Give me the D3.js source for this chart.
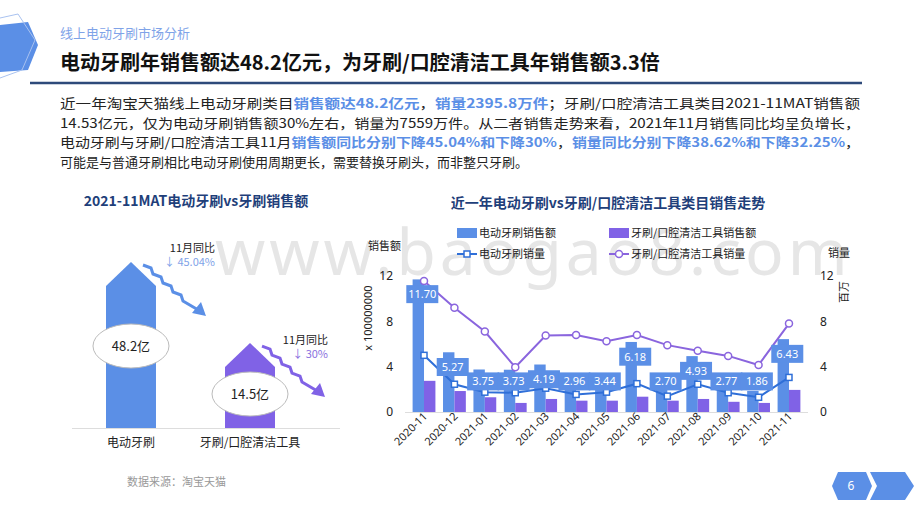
<!DOCTYPE html>
<html><head><meta charset="utf-8">
<script src="https://cdn.jsdelivr.net/npm/d3@7"></script>
<style>body{margin:0;background:#fff;font-family:"Noto Sans CJK SC","Noto Sans",sans-serif}</style>
</head><body><svg id="c" width="920" height="518"></svg>
<script>
const months=["2020-11","2020-12","2021-01","2021-02","2021-03","2021-04","2021-05","2021-06","2021-07","2021-08","2021-09","2021-10","2021-11"];
const eSales=[11.70,5.27,3.75,3.73,4.19,2.96,3.44,6.18,2.70,4.93,2.77,1.86,6.43];
const tSales=[2.75,1.85,1.3,0.8,1.15,1.0,1.0,1.35,1.0,1.15,0.9,0.8,1.95];
const eVol=[5.0,2.45,1.75,1.7,2.1,1.55,1.75,2.5,1.4,2.45,1.7,1.3,3.05];
const tVol=[11.55,9.2,7.1,3.95,6.75,6.8,6.25,6.8,5.9,5.4,4.95,4.15,7.8];
const yTicks=[0,4,8,12];
const leftCats=["电动牙刷","牙刷/口腔清洁工具"];
const leftVals=[48.2,14.5];
const leftYoY=["45.04%","30%"];
const BLUE="#5b8fe6",PURP="#8062e6",LINEB="#2f6fd8",LINEP="#8a65de";
const svg=d3.select("#c");
const F='"Noto Sans CJK SC",sans-serif';
svg.append("text").attr("x",215).attr("y",275).attr("font-size",64).attr("fill","#e6e6e6").attr("font-family","Noto Sans").attr("letter-spacing",4).text("www.baogao8.com");
svg.append("path").attr("d","M0,25 L28,22 L38,45 L28,70 L0,72Z").attr("fill","#5b8fe6");
svg.append("path").attr("d","M0,18 L18,14 L35,40 L22,70 L0,78").attr("fill","none").attr("stroke","#a9c2f0");
svg.append("text").attr("x",60).attr("y",38).attr("font-size",13).attr("fill","#7fa3e8").attr("font-family",F).text("线上电动牙刷市场分析");
svg.append("text").attr("x",60).attr("y",70).attr("font-size",20).attr("font-weight","bold").attr("fill","#111").attr("font-family",F).text("电动牙刷年销售额达48.2亿元，为牙刷/口腔清洁工具年销售额3.3倍");
svg.append("line").attr("x1",30).attr("x2",862).attr("y1",83).attr("y2",83).attr("stroke","#2e4a7a").attr("stroke-width",2.5);
const body=[
 [["近一年淘宝天猫线上电动牙刷类目",0],["销售额达48.2亿元",1],["，",0],["销量2395.8万件",1],["；牙刷/口腔清洁工具类目2021-11MAT销售额",0]],
 [["14.53亿元，仅为电动牙刷销售额30%左右，销量为7559万件。从二者销售走势来看，2021年11月销售同比均呈负增长，",0]],
 [["电动牙刷与牙刷/口腔清洁工具11月",0],["销售额同比分别下降45.04%和下降30%",1],["，",0],["销量同比分别下降38.62%和下降32.25%",1],["，",0]],
 [["可能是与普通牙刷相比电动牙刷使用周期更长，需要替换牙刷头，而非整只牙刷。",0]]];
body.forEach((ln,i)=>{const t=svg.append("text").attr("x",60).attr("y",108+i*19.5).attr("font-size",13).attr("font-family",F);
 if(i<3)t.attr("textLength",800).attr("lengthAdjust","spacingAndGlyphs");
 ln.forEach(s=>t.append("tspan").text(s[0]).attr("fill",s[1]?"#5b8fe6":"#222").attr("font-weight",s[1]?"bold":"normal"));});
// left chart
svg.append("text").attr("x",196).attr("y",206).attr("text-anchor","middle").attr("font-size",14).attr("font-weight","bold").attr("fill","#1f3f7a").attr("font-family",F).text("2021-11MAT电动牙刷vs牙刷销售额");
const lx=d3.scaleBand().domain(leftCats).range([106,275]).paddingInner(0.58).paddingOuter(0);
const ly=d3.scaleLinear().domain([0,48.2]).range([377.9,262]);
leftCats.forEach((c,i)=>{const x0=lx(c),w=lx.bandwidth(),top=ly(leftVals[i]),sh=top+24;
 const col=i?PURP:BLUE;
 svg.append("path").attr("d",`M${x0},428 L${x0},${sh} L${x0+w/2},${top} L${x0+w},${sh} L${x0+w},428Z`).attr("fill",col);
 const cy=i?394:346;
 svg.append("ellipse").attr("cx",x0+w/2).attr("cy",cy).attr("rx",38).attr("ry",22).attr("fill","#fff").attr("stroke","#bbb");
 svg.append("text").attr("x",x0+w/2).attr("y",cy+5).attr("text-anchor","middle").attr("font-size",13).attr("font-family",F).attr("fill","#222").text(leftVals[i]+"亿");
 svg.append("text").attr("x",x0+w/2).attr("y",447).attr("text-anchor","middle").attr("font-size",12).attr("font-family",F).attr("fill","#222").text(c);
 const ax=x0+w/2+12,ay=top+3;
 let pts=[[ax,ay]];for(let k=0;k<4;k++){const p=pts[pts.length-1];pts.push([p[0]+8,p[1]+3],[p[0]+10,p[1]+9]);}
 const last=pts[pts.length-1];pts.push([last[0]+17,last[1]+10]);
 svg.append("path").attr("d",d3.line()(pts)).attr("fill","none").attr("stroke",col).attr("stroke-width",3);
 const e=pts[pts.length-1];
 svg.append("path").attr("d",`M${e[0]+6},${e[1]+5} L${e[0]-8},${e[1]+2} L${e[0]+1},${e[1]-9}Z`).attr("fill",col);
 const tx=i?328:215,ty=i?344:252;
 svg.append("text").attr("x",tx).attr("y",ty).attr("text-anchor","end").attr("font-size",11).attr("font-family",F).attr("fill","#222").text("11月同比");
 svg.append("text").attr("x",tx).attr("y",ty+14).attr("text-anchor","end").attr("font-size",11).attr("font-family",F).attr("fill",i?"#8a70e0":"#7fa3e8").text("↓ "+leftYoY[i]);
});
svg.append("line").attr("x1",72).attr("x2",340).attr("y1",428.5).attr("y2",428.5).attr("stroke","#ddd");
svg.append("text").attr("x",127).attr("y",486).attr("font-size",11).attr("font-family",F).attr("fill","#999").text("数据来源：淘宝天猫");
// right chart
svg.append("text").attr("x",608).attr("y",208).attr("text-anchor","middle").attr("font-size",14).attr("font-weight","bold").attr("fill","#1f3f7a").attr("font-family",F).text("近一年电动牙刷vs牙刷/口腔清洁工具类目销售走势");
const x=d3.scaleBand().domain(months).range([405,808]).padding(0.25);
const y=d3.scaleLinear().domain([0,12]).range([412,276]);
const g=svg.append("g");
g.append("line").attr("x1",405).attr("x2",808).attr("y1",412.5).attr("y2",412.5).attr("stroke","#ddd");
const bw=x.bandwidth()/2;
months.forEach((m,i)=>{
 g.append("rect").attr("x",x(m)).attr("y",y(eSales[i])).attr("width",bw).attr("height",412-y(eSales[i])).attr("fill",BLUE);
 g.append("rect").attr("x",x(m)+bw).attr("y",y(tSales[i])).attr("width",bw).attr("height",412-y(tSales[i])).attr("fill",PURP);
});
const lineGen=d3.line().x((d,i)=>x(months[i])+x.bandwidth()/2).y(d=>y(d));
g.append("path").attr("d",lineGen(tVol)).attr("fill","none").attr("stroke",LINEP).attr("stroke-width",2);
g.append("path").attr("d",lineGen(eVol)).attr("fill","none").attr("stroke",LINEB).attr("stroke-width",2);
tVol.forEach((d,i)=>g.append("circle").attr("cx",x(months[i])+x.bandwidth()/2).attr("cy",y(d)).attr("r",3.5).attr("fill","#fff").attr("stroke",LINEP).attr("stroke-width",1.5));
eVol.forEach((d,i)=>g.append("rect").attr("x",x(months[i])+x.bandwidth()/2-3).attr("y",y(d)-3).attr("width",6).attr("height",6).attr("fill","#fff").attr("stroke",LINEB).attr("stroke-width",1.5));
eSales.forEach((d,i)=>{const cx=x(months[i])+bw/2+4,cy=y(Math.max(d-1.3,2.7));
 g.append("rect").attr("x",cx-16).attr("y",cy-9).attr("width",32).attr("height",18).attr("fill",BLUE);
 g.append("text").attr("x",cx).attr("y",cy+4).attr("text-anchor","middle").attr("font-size",11).attr("fill","#fff").attr("font-family","Noto Sans").text(d.toFixed(2));});
const ax=svg.append("g").attr("transform","translate(405,0)").call(d3.axisLeft(y).tickValues(yTicks).tickSize(0).tickPadding(12));
const ax2=svg.append("g").attr("transform","translate(810,0)").call(d3.axisRight(y).tickValues(yTicks).tickSize(0).tickPadding(10));
[ax,ax2].forEach(a=>{a.select(".domain").remove();a.selectAll("text").attr("font-size",12).attr("fill","#222").attr("font-family","Noto Sans");});
svg.append("g").attr("transform","translate(0,417)").selectAll("text").data(months).join("text")
 .attr("transform",m=>`translate(${x(m)+x.bandwidth()/2+4},0) rotate(-45)`).attr("text-anchor","end").attr("font-size",11).attr("fill","#222").attr("font-family","Noto Sans").text(d=>d);
svg.append("text").attr("x",368).attr("y",250).attr("font-size",11).attr("font-family",F).attr("fill","#222").text("销售额");
svg.append("text").attr("transform","translate(372,318) rotate(-90)").attr("text-anchor","middle").attr("font-size",11).attr("font-family","Noto Sans").attr("fill","#222").text("x 100000000");
svg.append("text").attr("x",828).attr("y",257).attr("font-size",11).attr("font-family",F).attr("fill","#222").text("销量");
svg.append("text").attr("transform","translate(848,292) rotate(-90)").attr("text-anchor","middle").attr("font-size",11).attr("font-family",F).attr("fill","#222").text("百万");
const leg=[["电动牙刷销售额","bar",BLUE,457,233],["牙刷/口腔清洁工具销售额","bar",PURP,609,233],["电动牙刷销量","sq",LINEB,457,254],["牙刷/口腔清洁工具销量","ci",LINEP,609,254]];
leg.forEach(l=>{const [t,k,c,lx0,ly0]=l;
 if(k=="bar")svg.append("rect").attr("x",lx0).attr("y",ly0-5).attr("width",20).attr("height",10).attr("fill",c);
 else{svg.append("line").attr("x1",lx0).attr("x2",lx0+20).attr("y1",ly0).attr("y2",ly0).attr("stroke",c).attr("stroke-width",2);
  if(k=="sq")svg.append("rect").attr("x",lx0+7).attr("y",ly0-3).attr("width",6).attr("height",6).attr("fill","#fff").attr("stroke",c).attr("stroke-width",1.5);
  else svg.append("circle").attr("cx",lx0+10).attr("cy",ly0).attr("r",3.5).attr("fill","#fff").attr("stroke",c).attr("stroke-width",1.5);}
 svg.append("text").attr("x",lx0+22).attr("y",ly0+4).attr("font-size",11).attr("font-family",F).attr("fill","#222").text(t);});
svg.append("path").attr("d","M838,472 L866,472 L872,486 L866,500 L838,500 L832,486Z").attr("fill",BLUE);
svg.append("text").attr("x",851).attr("y",490).attr("text-anchor","middle").attr("font-size",12).attr("fill","#fff").attr("font-family","Noto Sans").text("6");
svg.append("path").attr("d","M870,472 L905,472 L914,486 L905,500 L870,500 L877,486Z").attr("fill",BLUE);
</script></body></html>
